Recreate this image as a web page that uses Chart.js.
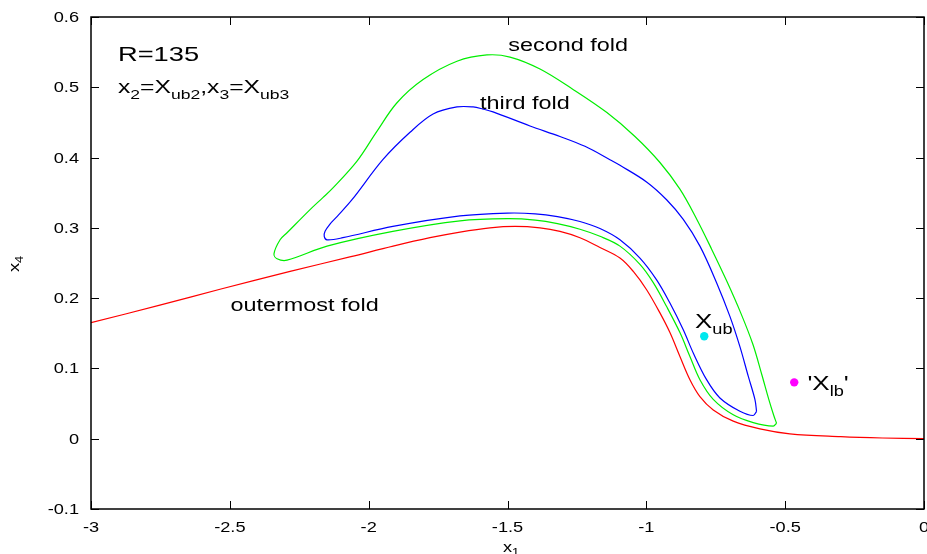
<!DOCTYPE html>
<html>
<head>
<meta charset="utf-8">
<script src="https://cdn.jsdelivr.net/npm/chart.js@4/dist/chart.umd.min.js"></script>
<style>
  body { margin: 0; background: #fff; }
  #c { display: block; }
</style>
</head>
<body>
<canvas id="c" width="927" height="554"></canvas>
<script>
// outermost fold (red)
const redX = [-3, -2.752, -2.532, -2.283, -2.064, -1.912, -1.779, -1.671, -1.563, -1.473, -1.383, -1.311, -1.239, -1.167, -1.095, -1.047, -0.999, -0.951, -0.915, -0.879, -0.843, -0.807, -0.759, -0.687, -0.591, -0.483, -0.3, -0.15, 0];
const redY = [0.165, 0.190, 0.213, 0.238, 0.259, 0.274, 0.286, 0.294, 0.300, 0.302, 0.300, 0.295, 0.286, 0.272, 0.257, 0.238, 0.212, 0.179, 0.151, 0.117, 0.084, 0.060, 0.041, 0.025, 0.014, 0.007, 0.003, 0.001, 0];

// second fold (green), closed loop starting at the right tip
const greenX = [-0.531, -0.543, -0.615, -0.687, -0.759, -0.807, -0.843, -0.879, -0.927, -0.975, -1.023, -1.095, -1.167, -1.239, -1.32, -1.4, -1.5, -1.671, -1.913, -2.150, -2.294, -2.33, -2.341, -2.319, -2.294, -2.211, -2.165, -2.133, -2.042, -1.971, -1.898, -1.804, -1.682, -1.574, -1.491, -1.383, -1.264, -1.142, -1.041, -0.951, -0.879, -0.818, -0.764, -0.710, -0.659, -0.616, -0.584, -0.559, -0.541, -0.531];
const greenY = [0.022, 0.018, 0.023, 0.034, 0.056, 0.084, 0.117, 0.151, 0.188, 0.222, 0.248, 0.274, 0.288, 0.298, 0.306, 0.311, 0.313, 0.310, 0.295, 0.274, 0.254, 0.256, 0.263, 0.283, 0.293, 0.326, 0.343, 0.355, 0.395, 0.437, 0.478, 0.511, 0.537, 0.546, 0.543, 0.526, 0.497, 0.464, 0.430, 0.393, 0.355, 0.312, 0.269, 0.224, 0.178, 0.134, 0.091, 0.056, 0.033, 0.022];

// third fold (blue), closed loop starting at the right tip
const blueX = [-0.603, -0.615, -0.663, -0.735, -0.783, -0.831, -0.867, -0.915, -0.963, -1.023, -1.095, -1.167, -1.239, -1.32, -1.4, -1.5, -1.671, -1.913, -2.093, -2.150, -2.160, -2.157, -2.140, -2.114, -2.060, -1.949, -1.851, -1.768, -1.682, -1.624, -1.588, -1.552, -1.419, -1.311, -1.221, -1.131, -1.095, -0.998, -0.927, -0.867, -0.807, -0.747, -0.699, -0.663, -0.633, -0.609, -0.603];
const blueY = [0.039, 0.033, 0.039, 0.058, 0.084, 0.122, 0.155, 0.193, 0.226, 0.257, 0.283, 0.299, 0.309, 0.316, 0.320, 0.321, 0.317, 0.302, 0.286, 0.283, 0.288, 0.295, 0.305, 0.316, 0.340, 0.397, 0.436, 0.462, 0.472, 0.472, 0.469, 0.465, 0.445, 0.430, 0.416, 0.397, 0.389, 0.365, 0.340, 0.312, 0.274, 0.222, 0.174, 0.131, 0.089, 0.056, 0.039];

// marked points
const xubPoint = [-0.7915, 0.1457];
const xlbPoint = [-0.4674, 0.0802];

const xTicks = [-3, -2.5, -2, -1.5, -1, -0.5, 0];
const yTicks = [-0.1, 0, 0.1, 0.2, 0.3, 0.4, 0.5, 0.6];

const FONT = 'Arial, "Liberation Sans", Helvetica, sans-serif';
const SX = 1.3; // the reference text is drawn wide

function toPoints(xs, ys) {
    return xs.map((x, i) => ({ x: x, y: ys[i] }));
}

function fmt(v) {
    return String(Number(v.toFixed(2)));
}

// text pieces: [string, isSubscript]; returns the drawn width
function partsWidth(ctx, size, sub, parts) {
    let w = 0;
    parts.forEach(p => {
        ctx.font = (p[1] ? sub : size) + 'px ' + FONT;
        w += ctx.measureText(p[0]).width;
    });
    return w * SX;
}

function drawParts(ctx, x, y, size, sub, parts) {
    ctx.save();
    ctx.translate(x, y);
    ctx.scale(SX, 1);
    let cx = 0;
    parts.forEach(p => {
        ctx.font = (p[1] ? sub : size) + 'px ' + FONT;
        ctx.fillText(p[0], cx, p[1] ? size * 0.3 : 0);
        cx += ctx.measureText(p[0]).width;
    });
    ctx.restore();
}

const labels = [
    { x: -2.903, y: 0.538, size: 21, sub: 15, parts: [['R=135', 0]] },
    { x: -2.903, y: 0.492, size: 19, sub: 13.5, parts: [['x', 0], ['2', 1], ['=X', 0], ['ub2', 1], [',x', 0], ['3', 1], ['=X', 0], ['ub3', 1]] },
    { x: -1.497, y: 0.552, size: 18, sub: 13, parts: [['second fold', 0]] },
    { x: -1.599, y: 0.469, size: 18, sub: 13, parts: [['third fold', 0]] },
    { x: -2.498, y: 0.181, size: 18, sub: 13, parts: [['outermost fold', 0]] },
    { x: -0.825, y: 0.158, size: 20, sub: 14, parts: [['X', 0], ['ub', 1]] },
    { x: -0.420, y: 0.070, size: 20, sub: 14, parts: [["'X", 0], ['lb', 1], ["'", 0]] }
];

const framePlugin = {
    id: 'frame',
    afterDraw(chart) {
        const ctx = chart.ctx;
        const a = chart.chartArea;
        const xs = chart.scales.x;
        const ys = chart.scales.y;
        ctx.save();
        ctx.strokeStyle = '#000';
        ctx.lineWidth = 1.5;
        ctx.strokeRect(a.left, a.top, a.right - a.left, a.bottom - a.top);
        ctx.lineWidth = 1;
        const t = 8;
        ctx.beginPath();
        xs.ticks.forEach(tk => {
            const px = Math.round(xs.getPixelForValue(tk.value)) + 0.5;
            ctx.moveTo(px, a.bottom); ctx.lineTo(px, a.bottom - t);
            ctx.moveTo(px, a.top); ctx.lineTo(px, a.top + t);
        });
        ys.ticks.forEach(tk => {
            const py = Math.round(ys.getPixelForValue(tk.value)) + 0.5;
            ctx.moveTo(a.left, py); ctx.lineTo(a.left + t, py);
            ctx.moveTo(a.right, py); ctx.lineTo(a.right - t, py);
        });
        ctx.stroke();

        ctx.fillStyle = '#000';
        ctx.textBaseline = 'alphabetic';
        ctx.textAlign = 'left';

        // tick labels, placed from the scales
        xs.ticks.forEach(tk => {
            const p = [[fmt(tk.value), 0]];
            const w = partsWidth(ctx, 14, 10, p);
            drawParts(ctx, xs.getPixelForValue(tk.value) - w / 2, a.bottom + 23, 14, 10, p);
        });
        ys.ticks.forEach(tk => {
            const p = [[fmt(tk.value), 0]];
            const w = partsWidth(ctx, 14, 10, p);
            drawParts(ctx, a.left - 12 - w, ys.getPixelForValue(tk.value) + 5, 14, 10, p);
        });

        labels.forEach(l => {
            drawParts(ctx, xs.getPixelForValue(l.x), ys.getPixelForValue(l.y), l.size, l.sub, l.parts);
        });

        // axis titles
        drawParts(ctx, 503, 552, 14, 10, [['x', 0], ['1', 1]]);
        ctx.translate(19, 272);
        ctx.rotate(-Math.PI / 2);
        drawParts(ctx, 0, 0, 14, 10, [['x', 0], ['4', 1]]);
        ctx.restore();
    }
};

new Chart(document.getElementById('c'), {
    type: 'scatter',
    data: {
        datasets: [
            { data: toPoints(redX, redY), showLine: true, borderColor: '#ff0000', borderWidth: 1.2, pointRadius: 0, tension: 0.35 },
            { data: toPoints(greenX, greenY), showLine: true, borderColor: '#00ee00', borderWidth: 1.2, pointRadius: 0, tension: 0.35 },
            { data: toPoints(blueX, blueY), showLine: true, borderColor: '#0000ff', borderWidth: 1.2, pointRadius: 0, tension: 0.35 },
            { data: [{ x: xubPoint[0], y: xubPoint[1] }], pointRadius: 4.2, backgroundColor: '#00e8ee', borderWidth: 0 },
            { data: [{ x: xlbPoint[0], y: xlbPoint[1] }], pointRadius: 4.2, backgroundColor: '#ff00ff', borderWidth: 0 }
        ]
    },
    options: {
        responsive: false,
        animation: false,
        layout: { autoPadding: false, padding: { top: 17, right: 3, left: 0, bottom: 0 } },
        plugins: { legend: { display: false }, tooltip: { enabled: false } },
        scales: {
            x: {
                type: 'linear', min: -3, max: 0,
                afterFit: s => { s.height = 45; },
                afterBuildTicks: s => { s.ticks = xTicks.map(v => ({ value: v })); },
                grid: { display: false, drawTicks: false },
                border: { display: false },
                ticks: { display: false }
            },
            y: {
                type: 'linear', min: -0.1, max: 0.6,
                afterFit: s => { s.width = 91; },
                afterBuildTicks: s => { s.ticks = yTicks.map(v => ({ value: v })); },
                grid: { display: false, drawTicks: false },
                border: { display: false },
                ticks: { display: false }
            }
        }
    },
    plugins: [framePlugin]
});
</script>
</body>
</html>
